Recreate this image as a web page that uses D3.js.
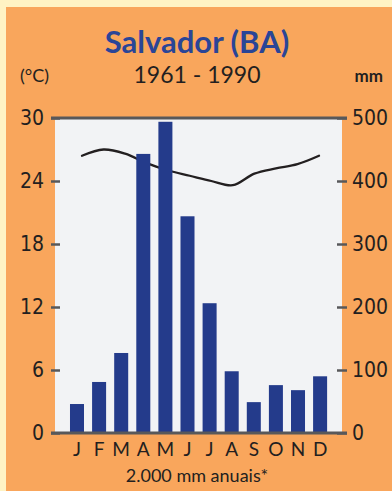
<!DOCTYPE html>
<html>
<head>
<meta charset="utf-8">
<script src="https://cdn.jsdelivr.net/npm/d3@7"></script>
<style>
  html, body { margin: 0; padding: 0; background: #fff3c4; }
  svg { display: block; }
  text { font-family: Lato, "Open Sans", sans-serif; fill: #231f20; }
</style>
</head>
<body>
<script>
// ---- data ----
const months = ["J", "F", "M", "A", "M", "J", "J", "A", "S", "O", "N", "D"];
const precipitation = [46, 81, 127, 443, 494, 344, 206, 98, 49, 76, 68, 90]; // mm
const temperature = [26.4, 27.0, 26.6, 25.7, 25.0, 24.5, 24.0, 23.6, 24.7, 25.2, 25.6, 26.4]; // °C
const tempTicks = [0, 6, 12, 18, 24, 30];
const precTicks = [0, 100, 200, 300, 400, 500];
const title = "Salvador (BA)";
const subtitle = "1961 - 1990";
const leftUnit = "(°C)";
const rightUnit = "mm";
const footer = "2.000 mm anuais*";

const W = 392, H = 491;
const svg = d3.select("body").append("svg").attr("width", W).attr("height", H);
const narrow = '"Liberation Sans Narrow", "Arial Narrow", "DejaVu Sans Condensed", sans-serif';

// backgrounds
svg.append("rect").attr("x", 0).attr("y", 0).attr("width", W).attr("height", H).attr("fill", "#fff3c4");
svg.append("rect").attr("x", 6).attr("y", 7).attr("width", W - 6).attr("height", H - 7).attr("fill", "#f9a65c");

const plot = { left: 55, right: 342, top: 118, bottom: 433 };
svg.append("rect").attr("x", plot.left).attr("y", plot.top)
  .attr("width", plot.right - plot.left).attr("height", plot.bottom - plot.top)
  .attr("fill", "#f2f3f5");

// scales
const yT = d3.scaleLinear().domain([0, 30]).range([plot.bottom, plot.top]);
const yP = d3.scaleLinear().domain([0, 500]).range([plot.bottom, plot.top]);
const x = d3.scaleBand().domain(d3.range(12)).range([61.9, 335.2]).padding(0.366);
const xLine = d3.scalePoint().domain(d3.range(12)).range([82, 319]);

// temperature line (behind bars)
const line = d3.line()
  .x((d, i) => xLine(i))
  .y(d => yT(d))
  .curve(d3.curveCatmullRom.alpha(0.5));
svg.append("path").datum(temperature)
  .attr("d", line)
  .attr("fill", "none")
  .attr("stroke", "#231f20")
  .attr("stroke-width", 2.3)
  .attr("stroke-linecap", "round");

// bars
svg.append("g").selectAll("rect").data(precipitation).join("rect")
  .attr("x", (d, i) => x(i))
  .attr("width", x.bandwidth())
  .attr("y", d => yP(d))
  .attr("height", d => yP(0) - yP(d))
  .attr("fill", "#243b8b");

// axes
const axisColor = "#58585a";
const leftAxis = svg.append("g").attr("transform", `translate(${plot.left + 5},0)`)
  .call(d3.axisLeft(yT).tickValues(tempTicks).tickSize(9).tickPadding(7));
const rightAxis = svg.append("g").attr("transform", `translate(${plot.right - 5},0)`)
  .call(d3.axisRight(yP).tickValues(precTicks).tickSize(10).tickPadding(5));
[leftAxis, rightAxis].forEach(g => {
  g.select(".domain").remove();
  g.selectAll(".tick line").attr("stroke", axisColor).attr("stroke-width", 2.5);
  g.selectAll(".tick text").attr("font-size", 21).attr("fill", "#231f20")
    .style("font-family", narrow);
});

// top and bottom frame lines
svg.append("line").attr("x1", 51).attr("x2", 347).attr("y1", yT(30)).attr("y2", yT(30))
  .attr("stroke", axisColor).attr("stroke-width", 3);
svg.append("line").attr("x1", 51).attr("x2", 347).attr("y1", yT(0)).attr("y2", yT(0))
  .attr("stroke", axisColor).attr("stroke-width", 3);

// month labels
svg.append("g").selectAll("text").data(months).join("text")
  .attr("x", (d, i) => x(i) + x.bandwidth() / 2)
  .attr("y", 456)
  .attr("text-anchor", "middle")
  .attr("font-size", 19)
  .text(d => d);

// titles
svg.append("text").attr("x", 197).attr("y", 53).attr("text-anchor", "middle")
  .attr("font-weight", "bold").attr("font-size", 31)
  .style("fill", "#2a4597")
  .text(title);
svg.append("text").attr("x", 197).attr("y", 83).attr("text-anchor", "middle")
  .attr("font-size", 23).text(subtitle);
svg.append("text").attr("x", 20).attr("y", 82).attr("font-size", 18).text(leftUnit);
svg.append("text").attr("x", 383).attr("y", 82).attr("text-anchor", "end")
  .attr("font-size", 17).attr("font-weight", "bold").text(rightUnit);
svg.append("text").attr("x", 197).attr("y", 482).attr("text-anchor", "middle")
  .attr("font-size", 18).text(footer);
</script>
</body>
</html>
